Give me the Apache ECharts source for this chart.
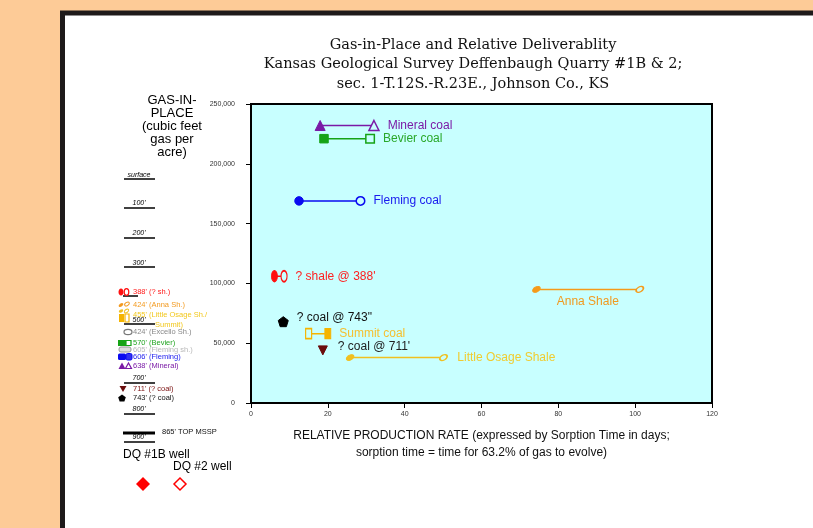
<!DOCTYPE html>
<html>
<head>
<meta charset="utf-8">
<script src="https://cdn.jsdelivr.net/npm/echarts@6/dist/echarts.min.js"></script>
<style>
html,body{margin:0;padding:0;background:#fdcb97;}
#chart{width:813px;height:528px;}
</style>
</head>
<body>
<div id="chart"></div>
<script>
// ---- data ----
const formations = ['Mineral coal', 'Bevier coal', 'Fleming coal', "? shale @ 388'", '? coal @ 743"', 'Summit coal', "? coal @ 711'", 'Little Osage Shale', 'Anna Shale'];
const gasInPlace = [232000, 221000, 169000, 106000, 68000, 58000, 44000, 38000, 95000];
const sorptionDQ1B = [18, 19, 12.5, 6.1, 8.4, 20, 18.7, 25.8, 74.3];   // filled markers (DQ #1B well)
const sorptionDQ2 = [32, 31, 28.5, 8.6, null, 15, null, 50.1, 101.2];  // open markers (DQ #2 well)
const xTicks = [0, 20, 40, 60, 80, 100, 120];
const yTicks = [0, 50000, 100000, 150000, 200000, 250000];

// ---- styles (not data) ----
const BG = '#c8ffff';
const pentagon = 'path://M0,-10L9.51,-3.09L5.88,8.09L-5.88,8.09L-9.51,-3.09Z';
const styles = [
  {color: '#7a1aa6', text: '#7a1aa6', symbol: 'triangle', size: 10},
  {color: '#16a316', text: '#2aa82a', symbol: 'rect', size: 8.5},
  {color: '#0a0af0', text: '#1a1aee', symbol: 'circle', size: 8.5},
  {color: '#ff1010', text: '#ff2020', symbol: 'circle', size: [6, 11]},
  {color: '#000000', text: '#111111', symbol: pentagon, size: 10, offset: [0, -4]},
  {color: '#f5b400', text: '#f5c030', symbol: 'rect', size: [6, 10]},
  {color: '#6b0d0d', text: '#222222', symbol: 'triangle', size: 9, rotate: 180, offset: [2, -4]},
  {color: '#f0c020', text: '#f0cc30', symbol: 'circle', size: [8, 5], rotate: 30},
  {color: '#f59a1a', text: '#f09a20', symbol: 'circle', size: [8, 5], rotate: 30, below: true}
];

const series = formations.map(function (name, i) {
  const st = styles[i];
  const pts = [];
  const labelBase = {show: true, formatter: name, color: st.text, fontSize: 12, fontFamily: 'Liberation Sans'};
  pts.push({value: [sorptionDQ1B[i], gasInPlace[i]], symbol: st.symbol, symbolSize: st.size, symbolRotate: st.rotate || 0,
    itemStyle: {color: st.color, borderColor: st.color, borderWidth: 1}});
  if (sorptionDQ2[i] !== null) {
    pts.push({value: [sorptionDQ2[i], gasInPlace[i]], symbol: st.symbol, symbolSize: st.size, symbolRotate: st.rotate || 0,
      itemStyle: {color: BG, borderColor: st.color, borderWidth: 1.5}});
  }
  let li = 0;
  pts.forEach(function (p, k) { if (p.value[0] > pts[li].value[0]) li = k; });
  if (st.below) {
    pts[li].label = Object.assign({}, labelBase, {position: 'bottom', distance: 1, offset: [-52, 0]});
  } else {
    pts[li].label = Object.assign({}, labelBase, {position: 'right', distance: 8, offset: st.offset || [0, 0]});
  }
  return {
    type: 'line', name: name, data: pts, silent: true, showAllSymbol: true,
    lineStyle: {color: st.color, width: 1.5}, z: 5
  };
});

// ---- left panel decorations ----
const g = [];
// frame
g.push({type: 'rect', z: -10, shape: {x: 62.5, y: 13, width: 800, height: 600}, style: {fill: '#ffffff', stroke: '#1e1a1a', lineWidth: 5}});
function txt(t, x, y, font, color, align) {
  g.push({type: 'text', z: 20, style: {text: t, x: x, y: y, font: font, fill: color || '#000', textAlign: align || 'left', textVerticalAlign: 'middle'}});
}
function line(x1, y1, x2, y2, w) {
  g.push({type: 'line', z: 20, shape: {x1: x1, y1: y1, x2: x2, y2: y2}, style: {stroke: '#000', lineWidth: w || 1.5}});
}
['GAS-IN-', 'PLACE', '(cubic feet', 'gas per', 'acre)'].forEach(function (t, k) {
  txt(t, 172, 100.5 + k * 13.1, '13px Liberation Sans', '#000', 'center');
});
const depthMarks = [['surface', 175, 179], ["100'", 203, 208], ["200'", 233, 238], ["300'", 263, 267], ["500'", 320, 324], ["700'", 378, 383], ["800'", 409, 414], ["900'", 437, 442]];
depthMarks.forEach(function (d) {
  txt(d[0], 139, d[1], 'italic 7px Liberation Sans', '#000', 'center');
  line(124, d[2], 155, d[2], 1.5);
});
line(123, 296, 138, 296, 1.5);
line(123, 433, 155, 433, 3);
const legendRows = [
  ["388' (? sh.)", 133, 292, '#ff1a1a'],
  ["424' (Anna Sh.)", 133, 305, '#f39a1f'],
  ["455' (Little Osage Sh./", 133, 315, '#f2c81e'],
  ['Summit)', 155, 325, '#f2c81e'],
  ["424' (Excello Sh.)", 133, 332, '#888888'],
  ["570' (Bevier)", 133, 343, '#22a522'],
  ["605' (Fleming sh.)", 133, 350, '#b8b8b8'],
  ["606' (Fleming)", 133, 357, '#1a1aee'],
  ["638' (Mineral)", 133, 366, '#7a1aa6'],
  ["711' (? coal)", 133, 389, '#7a1010'],
  ["743' (? coal)", 133, 398, '#111111'],
  ["865' TOP MSSP", 162, 432, '#111111']
];
legendRows.forEach(function (r) { txt(r[0], r[1], r[2], '7.5px Liberation Sans', r[3]); });
txt('DQ #1B well', 123, 455, '12px Liberation Sans', '#000');
txt('DQ #2 well', 173, 467, '12px Liberation Sans', '#000');
function shape(type, shp, style, extra) {
  g.push(Object.assign({type: type, z: 21, shape: shp, style: style}, extra || {}));
}
// legend icons
shape('ellipse', {cx: 121, cy: 292, rx: 2.5, ry: 3.6}, {fill: '#ff1010'});
shape('ellipse', {cx: 126.5, cy: 292, rx: 2.3, ry: 3.4}, {fill: '#fff', stroke: '#ff1010', lineWidth: 1.2});
shape('ellipse', {cx: 0, cy: 0, rx: 2.6, ry: 1.6}, {fill: '#f39a1f'}, {x: 121, y: 305, rotation: 0.6});
shape('ellipse', {cx: 0, cy: 0, rx: 2.6, ry: 1.6}, {fill: '#fff', stroke: '#f39a1f', lineWidth: 1}, {x: 127, y: 304, rotation: 0.6});
shape('ellipse', {cx: 0, cy: 0, rx: 2.4, ry: 1.5}, {fill: '#f0c020'}, {x: 121, y: 311, rotation: 0.6});
shape('ellipse', {cx: 0, cy: 0, rx: 2.4, ry: 1.5}, {fill: '#fff', stroke: '#f0c020', lineWidth: 1}, {x: 126.5, y: 311, rotation: 0.6});
shape('rect', {x: 119, y: 314, width: 5, height: 8}, {fill: '#f5b400'});
shape('rect', {x: 125, y: 314, width: 4, height: 8}, {fill: '#fff', stroke: '#f5b400', lineWidth: 1.2});
shape('ellipse', {cx: 128, cy: 332, rx: 4, ry: 2.6}, {fill: '#fff', stroke: '#777', lineWidth: 1.2});
shape('rect', {x: 118, y: 340, width: 8, height: 6}, {fill: '#16a316'});
shape('rect', {x: 126, y: 340.5, width: 5, height: 5}, {fill: '#fff', stroke: '#16a316', lineWidth: 1.2});
shape('rect', {x: 119, y: 347, width: 12, height: 5, r: 2}, {fill: '#ddd', stroke: '#999', lineWidth: 1});
shape('rect', {x: 118, y: 353.5, width: 8, height: 6.5, r: 1.5}, {fill: '#0a0af0'});
shape('rect', {x: 126, y: 353.5, width: 6, height: 6.5, r: 1.5}, {fill: '#3030f0', stroke: '#0a0af0', lineWidth: 1});
shape('polygon', {points: [[122, 362.5], [125.5, 369], [118.5, 369]]}, {fill: '#7a1aa6'});
shape('polygon', {points: [[128.5, 363], [131.5, 368.5], [125.5, 368.5]]}, {fill: '#fff', stroke: '#7a1aa6', lineWidth: 1.2});
shape('polygon', {points: [[119.5, 386], [126.5, 386], [123, 392]]}, {fill: '#6b0d0d'});
shape('polygon', {points: [[122, 394.5], [125.8, 397.2], [124.4, 401.5], [119.6, 401.5], [118.2, 397.2]]}, {fill: '#000'});
shape('polygon', {points: [[143, 477], [150, 484], [143, 491], [136, 484]]}, {fill: '#ff0000'});
shape('polygon', {points: [[180, 478], [186, 484], [180, 490], [174, 484]]}, {fill: '#fff', stroke: '#ff0000', lineWidth: 1.5});

const chart = echarts.init(document.getElementById('chart'), null, {renderer: 'canvas'});
chart.setOption({
  backgroundColor: '#fdcb97',
  animation: false,
  title: {
    text: 'Gas-in-Place and Relative Deliverablity\nKansas Geological Survey Deffenbaugh Quarry #1B & 2;\nsec. 1-T.12S.-R.23E., Johnson Co., KS',
    left: 468, top: 30, textAlign: 'center',
    textStyle: {fontFamily: 'DejaVu Serif', fontSize: 14.5, fontWeight: 'normal', color: '#111', lineHeight: 19.5}
  },
  grid: {left: 251, right: 101, top: 104, bottom: 125, show: true, backgroundColor: BG, borderColor: '#000', borderWidth: 2},
  xAxis: {
    type: 'value', min: xTicks[0], max: xTicks[xTicks.length - 1], interval: 20,
    axisLine: {show: true, lineStyle: {color: '#000', width: 2}},
    axisTick: {show: true, inside: false, length: 5, lineStyle: {color: '#000', width: 1}},
    splitLine: {show: false},
    axisLabel: {fontSize: 7, color: '#333', margin: 8, fontFamily: 'Liberation Sans'},
    name: 'RELATIVE PRODUCTION RATE (expressed by Sorption Time in days;\nsorption time = time for 63.2% of gas to evolve)',
    nameLocation: 'middle', nameGap: 24,
    nameTextStyle: {fontSize: 12, color: '#111', lineHeight: 17, fontFamily: 'Liberation Sans'}
  },
  yAxis: {
    type: 'value', min: yTicks[0], max: yTicks[yTicks.length - 1], interval: 50000,
    axisLine: {show: true, lineStyle: {color: '#000', width: 2}},
    axisTick: {show: true, inside: false, length: 5, lineStyle: {color: '#000', width: 1}},
    splitLine: {show: false},
    axisLabel: {fontSize: 7, color: '#333', margin: 16, fontFamily: 'Liberation Sans',
      formatter: function (v) { return v.toLocaleString('en-US'); }}
  },
  graphic: g,
  series: series
});
</script>
</body>
</html>
